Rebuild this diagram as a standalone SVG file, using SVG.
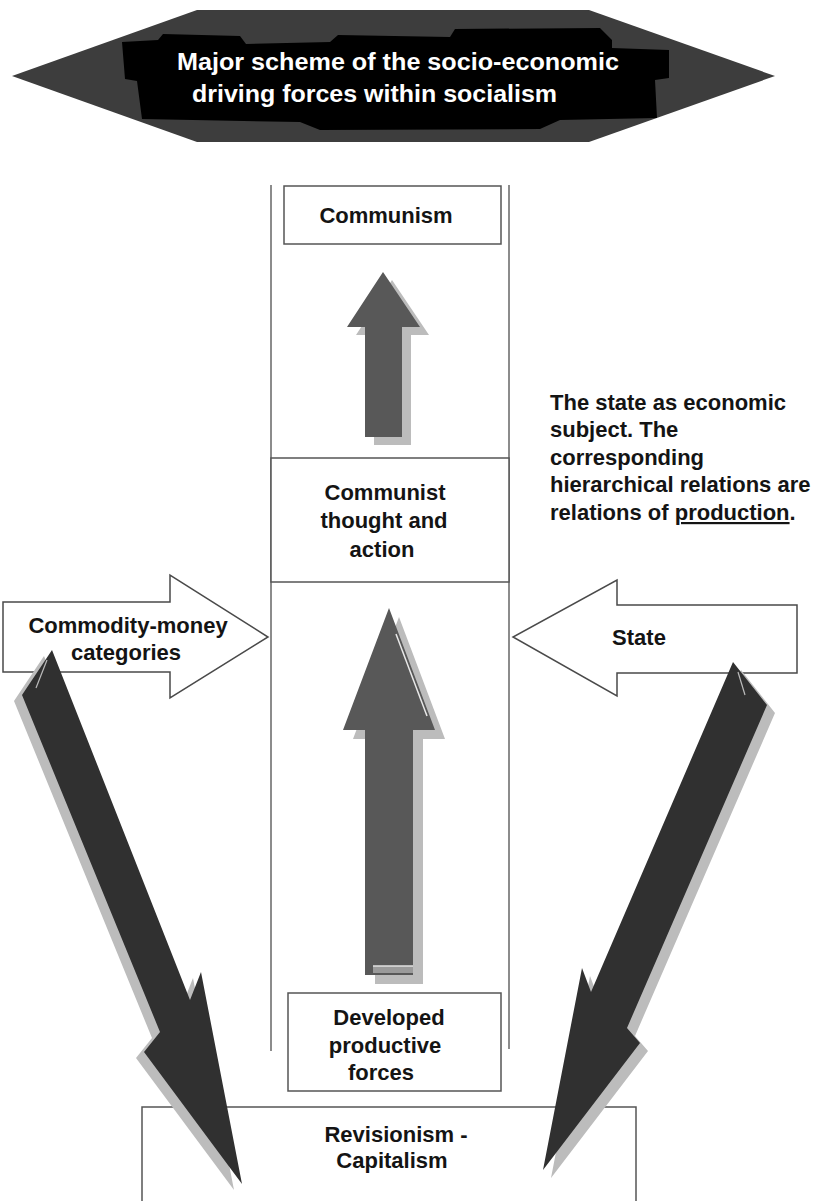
<svg xmlns="http://www.w3.org/2000/svg" width="817" height="1201" viewBox="0 0 817 1201">
<style>
.t{font-family:"Liberation Sans",Arial,sans-serif;font-weight:bold;font-size:22px;fill:#141414}
.ttl{font-family:"Liberation Sans",Arial,sans-serif;font-weight:bold;font-size:23px;fill:#ffffff}
.box{fill:#ffffff;stroke:#555;stroke-width:1.5}
.line{stroke:#666;stroke-width:1.5;fill:none}
.warrow{fill:#ffffff;stroke:#4a4a4a;stroke-width:1.5;stroke-linejoin:miter}
.dark{fill:#303030}
.mid{fill:#585858}
.shade{fill:#bcbcbc}
</style>
<rect width="817" height="1201" fill="#ffffff"/>

<g id="title">
  <polygon points="12,76 197,10 589,10 775,76 589,142 197,142" fill="#3d3d3d"/>
  <path d="M122,42 L158,40 L163,34 L240,36 L246,44 L330,42 L338,35 L450,37 L455,29 L600,28 L612,40 L612,48 L669,50 L669,78 L655,80 L657,118 L560,120 L540,129 L320,130 L300,122 L142,119 L137,81 L125,79 Z" fill="#000"/>
  <text class="ttl" x="177" y="70" textLength="442" lengthAdjust="spacingAndGlyphs">Major scheme of the socio-economic</text>
  <text class="ttl" x="192" y="102" textLength="365" lengthAdjust="spacingAndGlyphs">driving forces within socialism</text>
</g>

<g id="frame">
  <line class="line" x1="271" y1="185" x2="271" y2="1051"/>
  <line class="line" x1="509" y1="185" x2="509" y2="1049"/>
</g>

<g id="communism">
  <rect class="box" x="284" y="186" width="217" height="58"/>
  <text class="t" x="386" y="223" text-anchor="middle">Communism</text>
</g>

<g id="thought">
  <rect class="box" x="271" y="458" width="238" height="124"/>
  <text class="t" x="385" y="500" text-anchor="middle">Communist</text>
  <text class="t" x="384" y="528" text-anchor="middle">thought and</text>
  <text class="t" x="382" y="557" text-anchor="middle">action</text>
</g>

<g id="developed">
  <rect class="box" x="288" y="993" width="213" height="98"/>
  <text class="t" x="389" y="1025" text-anchor="middle">Developed</text>
  <text class="t" x="385" y="1053" text-anchor="middle">productive</text>
  <text class="t" x="381" y="1080" text-anchor="middle">forces</text>
</g>

<g id="revisionism">
  <rect class="box" x="142" y="1107" width="494" height="110"/>
  <text class="t" x="396" y="1142" text-anchor="middle">Revisionism -</text>
  <text class="t" x="392" y="1168" text-anchor="middle">Capitalism</text>
</g>

<g id="commodity">
  <polygon class="warrow" points="3,602 170,602 170,575 268,637 170,698 170,672 3,672"/>
  <text class="t" x="128" y="633" text-anchor="middle">Commodity-money</text>
  <text class="t" x="126" y="660" text-anchor="middle">categories</text>
</g>

<g id="state">
  <polygon class="warrow" points="797,605 617,605 617,580 513,637 617,696 617,673 797,673"/>
  <text class="t" x="639" y="645" text-anchor="middle">State</text>
</g>

<g id="note">
  <text class="t" x="550" y="410">The state as economic</text>
  <text class="t" x="550" y="437">subject. The</text>
  <text class="t" x="550" y="465">corresponding</text>
  <text class="t" x="550" y="492">hierarchical relations are</text>
  <text class="t" x="550" y="520">relations of <tspan text-decoration="underline">production</tspan>.</text>
</g>

<g id="connectors">
  <g id="arrow-upper">
    <polygon class="shade" transform="translate(9,8)" points="383,272 420,327 402,327 402,437 365,437 365,327 347,327"/>
    <polygon class="mid" points="383,272 420,327 402,327 402,437 365,437 365,327 347,327"/>
  </g>
  <g id="arrow-lower">
    <polygon class="shade" transform="translate(10,9)" points="389,608 435,730 413,730 413,975 365,975 365,730 343,730"/>
    <polygon class="mid" points="389,608 435,730 413,730 413,975 365,975 365,730 343,730"/>
    <line x1="396" y1="634" x2="427" y2="716" stroke="#e8e8e8" stroke-width="1.5"/>
    <rect x="373" y="966" width="40" height="7" fill="#9a9a9a"/>
    <line x1="373" y1="966" x2="413" y2="966" stroke="#e0e0e0" stroke-width="1.5"/>
  </g>
  <g id="arrow-left-down">
    <polygon class="shade" transform="translate(-8,6)" points="52,650 190,1000 201,972 242,1184 144,1052 160,1032 22,695"/>
    <polygon class="dark" points="52,650 190,1000 201,972 242,1184 144,1052 160,1032 22,695"/>
    <line x1="47" y1="660" x2="36" y2="688" stroke="#bbb" stroke-width="1.2"/>
  </g>
  <g id="arrow-right-down">
    <polygon class="shade" transform="translate(8,8)" points="733,662 591,992 582,968 543,1170 640,1043 627,1028 767,705"/>
    <polygon class="dark" points="733,662 591,992 582,968 543,1170 640,1043 627,1028 767,705"/>
    <line x1="738" y1="672" x2="745" y2="695" stroke="#bbb" stroke-width="1.2"/>
  </g>
</g>
</svg>
